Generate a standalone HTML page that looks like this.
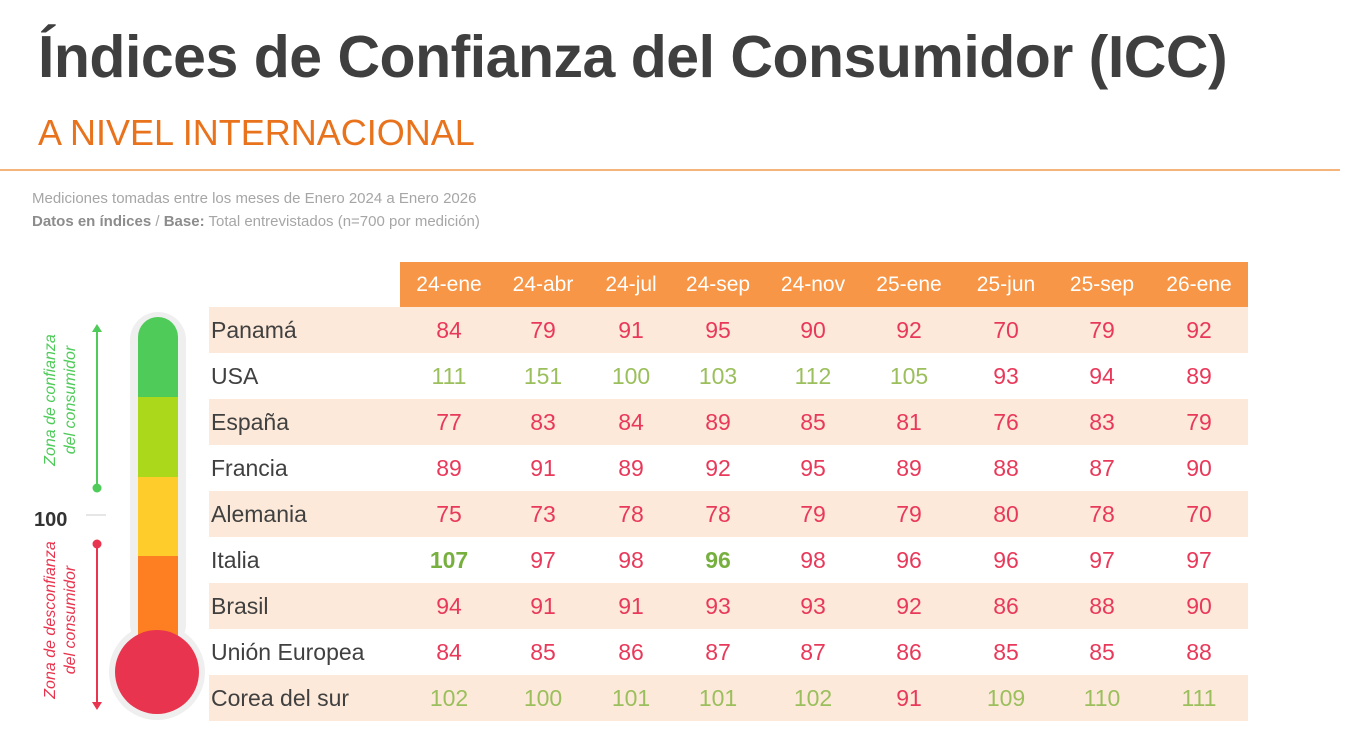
<!DOCTYPE html>
<html><head><meta charset="utf-8"><style>
body{margin:0;width:1366px;height:752px;background:#fff;font-family:"Liberation Sans",sans-serif;position:relative;overflow:hidden}
.a{position:absolute;white-space:nowrap}
.t{left:38px;top:23px;font-size:59px;font-weight:bold;color:#3f3f3f;letter-spacing:-0.5px}
.s{left:38px;top:112px;font-size:36px;color:#e8731c}
.hr{left:0;top:169px;width:1340px;height:2px;background:#f5b47a}
.n{left:32px;font-size:15px;color:#a6a6a6}
.row{position:absolute;left:209px;width:1039px;height:46px}
.row span{position:absolute;top:0;line-height:46px;font-size:23px;text-align:center;width:90px;margin-left:-45px}
.row .l{left:2px;margin-left:0;width:auto;color:#404040;text-align:left}
.r{color:#e8395a}.g{color:#9bbf5c}.G{color:#78b040;font-weight:bold}
.hd{position:absolute;left:400px;top:262px;width:848px;height:45px;background:#f79646}
.hd span{position:absolute;line-height:45px;color:#fff;font-size:21px;width:100px;margin-left:-50px;text-align:center;top:0}
</style></head><body>
<div class="a t">Índices de Confianza del Consumidor (ICC)</div>
<div class="a s">A NIVEL INTERNACIONAL</div>
<div class="a hr"></div>
<div class="a n" style="top:190px">Mediciones tomadas entre los meses de Enero 2024 a Enero 2026</div>
<div class="a n" style="top:213px"><b style="color:#8c8c8c">Datos en índices</b> / <b style="color:#8c8c8c">Base:</b> Total entrevistados (n=700 por medición)</div>

<svg class="a" style="left:0;top:300px" width="210" height="430">
<rect x="130" y="12" width="56" height="340" rx="28" fill="#efefef"/>
<circle cx="157" cy="372" r="48" fill="#efefef"/>
<path d="M138 37a20 20 0 0 1 40 0V97H138Z" fill="#4ecb58"/>
<rect x="138" y="97" width="40" height="80" fill="#acd81b"/>
<rect x="138" y="177" width="40" height="79" fill="#fecd2b"/>
<rect x="138" y="256" width="40" height="81" fill="#fd7f21"/>
<circle cx="157" cy="372" r="42" fill="#e8344e"/>
<line x1="97" y1="30" x2="97" y2="188" stroke="#4ecb58" stroke-width="2"/>
<polygon points="92,32 102,32 97,24" fill="#4ecb58"/><circle cx="97" cy="188" r="4.5" fill="#4ecb58"/>
<line x1="97" y1="244" x2="97" y2="404" stroke="#e8344e" stroke-width="2"/>
<polygon points="92,402 102,402 97,410" fill="#e8344e"/><circle cx="97" cy="244" r="4.5" fill="#e8344e"/>
<line x1="86" y1="215" x2="106" y2="215" stroke="#ddd" stroke-width="1.5"/>
<text x="34" y="226" font-size="20" font-weight="bold" fill="#333" font-family="Liberation Sans">100</text>
<g font-family="Liberation Sans" font-style="italic" font-size="16" fill="#4ecb58" text-anchor="middle">
<text transform="translate(55,100) rotate(-90)">Zona de confianza</text>
<text transform="translate(75,100) rotate(-90)">del consumidor</text></g>
<g font-family="Liberation Sans" font-style="italic" font-size="16" fill="#e8344e" text-anchor="middle">
<text transform="translate(55,320) rotate(-90)">Zona de desconfianza</text>
<text transform="translate(75,320) rotate(-90)">del consumidor</text></g>
</svg>

<div class="hd">
<span style="left:49px">24-ene</span><span style="left:143px">24-abr</span><span style="left:231px">24-jul</span><span style="left:318px">24-sep</span><span style="left:413px">24-nov</span><span style="left:509px">25-ene</span><span style="left:606px">25-jun</span><span style="left:702px">25-sep</span><span style="left:799px">26-ene</span>
</div>
<div id="rows"></div>
<script>
var d=[["Panamá",[84,79,91,95,90,92,70,79,92]],["USA",[111,151,100,103,112,105,93,94,89]],["España",[77,83,84,89,85,81,76,83,79]],["Francia",[89,91,89,92,95,89,88,87,90]],["Alemania",[75,73,78,78,79,79,80,78,70]],["Italia",[107,97,98,96,98,96,96,97,97]],["Brasil",[94,91,91,93,93,92,86,88,90]],["Unión Europea",[84,85,86,87,87,86,85,85,88]],["Corea del sur",[102,100,101,101,102,91,109,110,111]]];
var xs=[449,543,631,718,813,909,1006,1102,1199],h="";
d.forEach(function(r,i){h+='<div class="row" style="top:'+(307+i*46)+'px;background:'+(i%2?'#fff':'#fde9d9')+'"><span class="l">'+r[0]+'</span>';
r[1].forEach(function(v,j){var c=v>=100?'g':'r';if(i==5&&(j==0||j==3))c='G';h+='<span class="'+c+'" style="left:'+(xs[j]-209)+'px">'+v+'</span>';});h+='</div>';});
document.getElementById('rows').innerHTML=h;
</script>
</body></html>
